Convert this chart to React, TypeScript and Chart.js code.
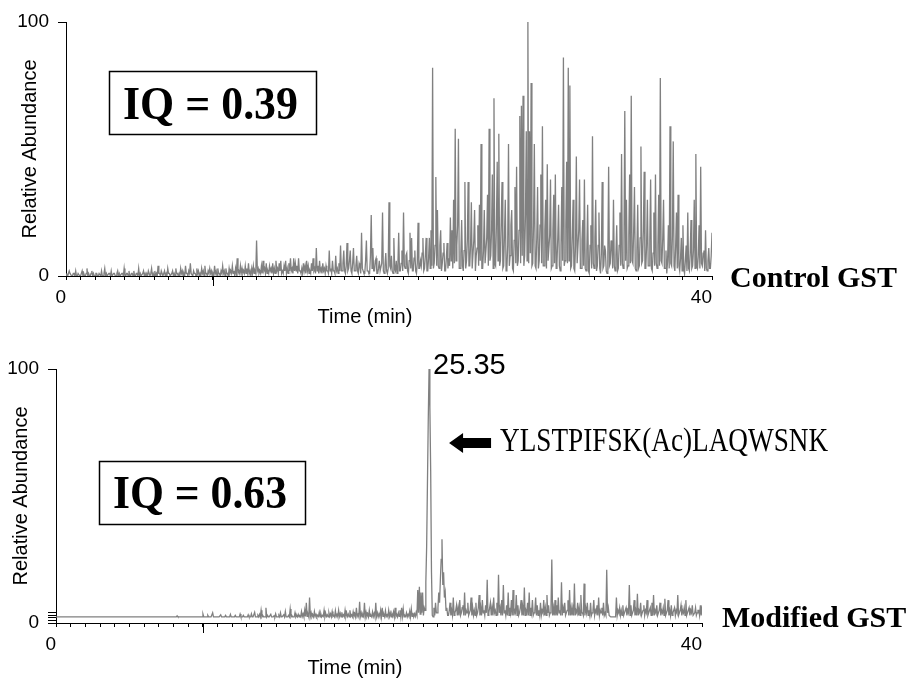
import React, { useEffect, useRef } from "react";
import { Chart, registerables } from "chart.js";

Chart.register(...registerables);

// ---------- data ----------
const SAMPLE_STEP = 0.055; // minutes between scans
const X_MIN = 0;
const X_MAX = 44;
const xLabelValues = [0, 44];
const xLabelTexts = ["0", "40"];
const MAJOR_TICK = 10;
const yLabelValues = [0, 100];
const yLabelTexts = ["0", "100"];
const yMinorTicksModified = [1, 2, 3, 4];

const controlValues = [
  1, 0, 0, 1, 2, 1, 1, 0, 0, 1, 1, 0, 2, 0, 0, 1, 1, 0, 0, 1,
  2, 0, 1, 0, 0, 1, 3, 0, 1, 0, 0, 1, 2, 0, 1, 0, 0, 1, 1, 0,
  0, 1, 1, 0, 2, 0, 0, 1, 3, 0, 1, 0, 0, 1, 1, 0, 2, 0, 0, 1,
  1, 0, 0, 1, 2, 0, 1, 0, 0, 1, 1, 0, 3, 0, 0, 1, 1, 0, 2, 0,
  0, 1, 1, 0, 2, 0, 0, 1, 1, 0, 3, 0, 1, 0, 0, 1, 2, 0, 1, 0,
  1, 0, 2, 1, 0, 1, 3, 0, 1, 0, 2, 0, 1, 0, 4, 1, 1, 0, 2, 1,
  0, 1, 2, 0, 1, 0, 3, 1, 1, 0, 0, 1, 2, 0, 1, 0, 3, 1, 1, 0,
  1, 0, 3, 1, 2, 0, 1, 0, 4, 1, 1, 0, 2, 1, 5, 1, 1, 0, 2, 1,
  1, 0, 3, 1, 2, 0, 1, 0, 3, 1, 2, 0, 4, 1, 1, 0, 2, 1, 3, 1,
  2, 0, 1, 0, 4, 1, 2, 0, 3, 1, 1, 0, 2, 1, 4, 1, 2, 0, 3, 1,
  1, 0, 3, 1, 2, 1, 4, 1, 2, 0, 3, 1, 7, 1, 2, 1, 4, 1, 3, 1,
  2, 1, 4, 1, 3, 1, 5, 1, 2, 0, 3, 1, 4, 1, 2, 1, 14, 2, 3, 1,
  2, 1, 4, 1, 6, 2, 3, 1, 5, 1, 2, 1, 4, 2, 3, 1, 5, 1, 3, 1,
  6, 2, 3, 1, 5, 2, 6, 1, 2, 1, 4, 2, 6, 1, 3, 1, 5, 2, 7, 2,
  3, 1, 7, 2, 5, 2, 4, 1, 7, 2, 2, 1, 3, 1, 5, 2, 4, 1, 6, 2,
  4, 1, 2, 1, 5, 2, 7, 2, 3, 1, 11, 2, 4, 1, 6, 2, 3, 1, 5, 2,
  3, 1, 4, 2, 2, 1, 10, 2, 3, 1, 6, 2, 2, 1, 8, 2, 3, 1, 5, 2,
  12, 2, 2, 5, 10, 2, 1, 4, 13, 2, 3, 6, 10, 2, 1, 5, 11, 2, 2, 4,
  8, 2, 1, 5, 4, 1, 17, 3, 2, 1, 1, 6, 14, 2, 2, 1, 1, 8, 24, 3,
  11, 2, 2, 6, 7, 1, 1, 3, 6, 2, 2, 5, 25, 2, 1, 4, 9, 2, 1, 3,
  29, 4, 3, 8, 2, 1, 15, 3, 2, 6, 1, 4, 17, 2, 2, 5, 10, 2, 25, 4,
  3, 8, 9, 2, 1, 6, 17, 3, 15, 2, 2, 7, 10, 2, 1, 5, 21, 3, 3, 6,
  4, 9, 15, 2, 3, 8, 15, 2, 2, 7, 15, 3, 18, 4, 82, 3, 5, 12, 39, 4,
  26, 4, 3, 12, 18, 2, 5, 9, 13, 2, 2, 7, 13, 3, 7, 4, 23, 6, 18, 3,
  30, 5, 58, 6, 12, 20, 54, 3, 3, 9, 22, 4, 2, 10, 37, 3, 6, 14, 37, 4,
  4, 12, 29, 3, 3, 14, 26, 2, 8, 11, 20, 4, 28, 6, 52, 3, 3, 10, 26, 5,
  5, 15, 32, 4, 58, 6, 8, 18, 40, 3, 70, 5, 4, 20, 45, 6, 56, 4, 6, 22,
  37, 3, 4, 16, 30, 2, 3, 12, 52, 4, 8, 20, 26, 3, 2, 14, 35, 5, 43, 4,
  6, 18, 63, 5, 67, 8, 71, 4, 8, 24, 57, 6, 100, 5, 57, 9, 76, 4, 5, 20,
  52, 4, 3, 15, 35, 3, 6, 20, 40, 5, 59, 4, 4, 18, 30, 3, 44, 6, 6, 16,
  38, 3, 4, 18, 32, 5, 40, 3, 5, 15, 28, 4, 2, 12, 35, 6, 86, 4, 6, 20,
  45, 5, 82, 6, 75, 3, 4, 16, 30, 3, 2, 12, 47, 5, 5, 18, 38, 3, 3, 14,
  22, 4, 38, 3, 2, 10, 28, 2, 1, 12, 20, 3, 55, 5, 3, 15, 30, 2, 4, 12,
  25, 3, 1, 9, 37, 3, 4, 12, 10, 2, 1, 8, 43, 4, 5, 14, 12, 3, 30, 4,
  2, 8, 20, 2, 3, 12, 25, 4, 48, 5, 3, 14, 65, 6, 30, 3, 4, 16, 40, 5,
  71, 6, 5, 18, 35, 3, 2, 10, 28, 3, 4, 15, 51, 5, 6, 18, 41, 3, 3, 12,
  30, 4, 4, 14, 38, 3, 2, 9, 25, 4, 40, 5, 3, 12, 32, 4, 78, 6, 5, 15,
  30, 3, 3, 10, 1, 6, 20, 3, 59, 5, 4, 16, 53, 4, 2, 12, 25, 3, 32, 4,
  2, 7, 15, 2, 20, 3, 1, 6, 12, 2, 25, 3, 2, 9, 22, 3, 4, 10, 30, 3,
  48, 4, 3, 8, 20, 3, 43, 5, 4, 9, 10, 2, 18, 3, 2, 6, 11, 3, 3, 8,
  17,
];

const modifiedValues = [
  2.4, 2.4, 2.4, 2.4, 2.4, 2.4, 2.4, 2.4, 2.4, 2.4, 2.4, 2.4, 2.4, 2.4, 2.4, 2.4, 2.4, 2.4, 2.4, 2.4,
  2.4, 2.4, 2.4, 2.4, 2.4, 2.4, 2.4, 2.4, 2.4, 2.4, 2.4, 2.4, 2.4, 2.4, 2.4, 2.4, 2.4, 2.4, 2.4, 2.4,
  2.4, 2.4, 2.4, 2.4, 2.4, 2.4, 2.4, 2.4, 2.4, 2.4, 2.4, 2.4, 2.4, 2.4, 2.4, 2.4, 2.4, 2.4, 2.4, 2.4,
  2.4, 2.4, 2.4, 2.4, 2.4, 2.4, 2.4, 2.4, 2.4, 2.4, 2.4, 2.4, 2.4, 2.4, 2.4, 2.4, 2.4, 2.4, 2.4, 2.4,
  2.4, 2.4, 2.4, 2.4, 2.4, 2.4, 2.4, 2.4, 2.4, 2.4, 2.4, 2.4, 2.4, 2.4, 2.4, 2.4, 2.4, 2.4, 2.4, 2.4,
  2.4, 2.4, 2.4, 2.4, 2.4, 2.4, 2.4, 2.4, 2.4, 2.4, 2.4, 2.4, 2.4, 2.4, 2.4, 2.4, 2.4, 2.4, 2.4, 2.4,
  2.4, 2.4, 2.4, 2.4, 2.4, 2.4, 2.4, 2.4, 2.4, 2.4, 2.4, 2.4, 2.4, 2.4, 2.4, 2.4, 2.4, 2.4, 2.4, 2.4,
  2.4, 2.4, 2.4, 2.4, 2.4, 2.4, 2.4, 2.4, 2.4, 2.4, 2.8, 2.4, 2.4, 2.4, 2.4, 2.4, 2.4, 2.4, 2.4, 2.4,
  2.4, 2.4, 2.4, 2.4, 2.4, 2.4, 2.4, 2.4, 2.4, 2.4, 2.4, 2.4, 2.4, 2.4, 2.4, 2.4, 2.4, 2.4, 2.4, 2.4,
  2.4, 2.4, 3.5, 2.4, 2.4, 2.4, 2.4, 2.4, 3.0, 2.4, 2.4, 2.4, 2.4, 2.4, 4.0, 2.4, 2.4, 2.4, 2.4, 2.4,
  2.4, 2.4, 2.4, 2.4, 3.2, 2.4, 2.4, 2.4, 2.4, 2.4, 3.0, 2.4, 2.4, 2.4, 2.4, 2.4, 3.4, 2.4, 2.4, 2.4,
  2.4, 2.4, 3.0, 2.4, 2.4, 2.4, 2.4, 2.4, 3.5, 2.4, 2.4, 2.4, 3.0, 2.4, 2.4, 2.4, 2.4, 2.4, 3.2, 2.4,
  2.4, 2.4, 3.6, 2.4, 2.4, 2.4, 4.2, 2.4, 2.4, 2.4, 3.0, 2.4, 3.4, 2.4, 5.0, 2.4, 3.0, 2.4, 2.4, 2.4,
  6.0, 2.4, 3.0, 2.4, 2.4, 2.4, 3.4, 2.4, 2.4, 2.4, 2.8, 2.4, 3.6, 2.4, 2.4, 2.4, 3.0, 2.4, 4.0, 2.4,
  2.4, 2.4, 3.2, 2.4, 4.5, 2.4, 2.4, 2.4, 3.0, 2.4, 5.5, 2.4, 3.0, 2.4, 2.4, 2.4, 4.0, 2.4, 3.0, 2.4,
  3.4, 2.4, 2.8, 2.4, 4.5, 2.6, 3.6, 2.4, 5.0, 2.6, 8.0, 2.6, 3.5, 2.4, 10.0, 2.6, 4.0, 2.4, 3.2, 2.4,
  4.5, 2.6, 3.4, 2.4, 3.0, 2.6, 4.2, 2.4, 3.6, 2.4, 3.0, 2.6, 5.0, 2.4, 3.8, 2.6, 3.2, 2.4, 4.0, 2.6,
  3.6, 2.4, 4.5, 2.6, 3.0, 2.4, 4.8, 2.6, 3.4, 2.4, 5.0, 2.6, 3.8, 2.4, 4.2, 2.6, 3.2, 2.4, 5.0, 2.6,
  4.0, 2.6, 3.5, 2.4, 5.0, 2.6, 3.2, 2.4, 4.4, 2.6, 3.6, 2.4, 6.0, 2.6, 3.4, 2.4, 8.4, 2.6, 4.0, 2.4,
  3.4, 2.6, 8.0, 2.4, 4.2, 2.6, 3.6, 2.4, 5.0, 2.6, 3.0, 2.4, 4.4, 2.6, 3.8, 2.4, 8.0, 2.6, 4.0, 2.4,
  3.6, 2.6, 5.0, 2.4, 6.0, 2.6, 3.4, 2.4, 4.8, 2.6, 3.2, 2.4, 5.0, 2.6, 4.0, 2.4, 3.6, 2.6, 4.4, 2.4,
  6.0, 2.6, 3.4, 2.4, 4.0, 2.6, 5.0, 2.4, 6.0, 2.6, 5.5, 2.4, 3.0, 2.6, 4.0, 2.4, 3.4, 2.6, 4.6, 2.4,
  5.5, 2.6, 4.0, 2.4, 3.6, 2.6, 4.2, 3.0, 13.0, 4.0, 14.3, 3.5, 12.0, 4.0, 12.0, 3.0, 6.0, 5.0, 16.0, 30,
  55, 80, 100, 85, 60, 20, 3, 2.4, 6, 3, 8, 4, 4, 6, 12, 8, 17, 25, 33, 15,
  20, 10, 12, 5, 6, 3, 3, 5, 8, 3, 5, 3, 10, 3, 4, 5, 7, 3, 6, 3,
  9, 3, 4, 6, 7, 3, 12, 3, 5, 4, 8, 3, 4, 5, 10, 3, 6, 3, 5, 3,
  8, 3, 4, 6, 11, 3, 6, 3, 9, 4, 5, 3, 7, 4, 17, 3, 4, 6, 8, 3,
  6, 3, 10, 4, 5, 3, 8, 3, 19, 4, 6, 3, 9, 3, 15, 4, 5, 3, 7, 3,
  12, 3, 6, 4, 9, 3, 13, 3, 5, 4, 11, 3, 7, 3, 4, 6, 9, 3, 6, 3,
  14, 3, 5, 4, 8, 3, 12, 3, 6, 4, 9, 3, 4, 5, 10, 3, 7, 3, 5, 3,
  8, 3, 5, 4, 9, 3, 6, 3, 11, 4, 7, 3, 4, 6, 25, 3, 6, 3, 9, 3,
  7, 3, 10, 4, 5, 3, 16, 3, 6, 4, 8, 3, 4, 5, 9, 3, 13, 3, 6, 3,
  6, 3, 15.5, 3, 5, 4, 8, 3, 6, 3, 11, 4, 4, 3, 15.5, 3, 6, 4, 8, 3,
  5, 3, 8, 3, 4, 5, 9, 3, 5, 4, 7, 3, 10, 3, 5, 4, 6, 3, 8, 3,
  4, 3, 21, 4, 6, 3, 3, 2.4, 2.4, 2.4, 2.4, 2.4, 2.4, 2.4, 10, 3, 5, 4, 6, 3,
  5, 3, 7, 3, 4, 5, 6, 3, 5, 4, 15, 3, 7, 3, 4, 5, 9, 3, 5, 3,
  11.5, 3, 5, 4, 8, 3, 4, 5, 7, 3, 5, 4, 9, 3, 4, 5, 6, 3, 8, 3,
  11, 3, 5, 4, 7, 3, 4, 5, 8, 3, 5, 4, 6, 3, 9.5, 3, 4, 5, 9, 3,
  5, 3, 7, 3, 4, 5, 6, 3, 5, 4, 11, 3, 4, 5, 7, 3, 5, 4, 6, 3,
  9, 3, 4, 5, 6, 3, 5, 4, 7, 3, 3, 4, 6, 3, 4, 5, 5, 3, 7, 3,
  7,
];

const PEAK_LABEL = "25.35";
const PEPTIDE = "YLSTPIFSK(Ac)LAQWSNK";

// ---------- helpers ----------
const SANS = '"Liberation Sans", Arial, sans-serif';
const SERIF = '"Liberation Serif", "Times New Roman", serif';

type Annot = {
  iqText: string;
  box: [number, number, number, number];
  iqX: number;
  iqY: number;
  iqMax: number;
  sampleText: string;
  sampleX: number;
  sampleY: number;
  titleX: number;
  titleY: number;
  peak?: boolean;
};

function makeOptions(cfg: {
  padLeft: number;
  padTop: number;
  padRight: number;
  yWidth: number;
  xHeight: number;
  yMinor: number[];
  annot: Annot;
  values: number[];
}) {
  const minorTicks: number[] = [];
  for (let v = X_MIN; v <= X_MAX; v += 1) minorTicks.push(v);
  const yTicks = [...yLabelValues, ...cfg.yMinor].sort((a, b) => a - b);

  const annotPlugin = {
    id: "annot",
    afterDraw(chart: any) {
      const ctx = chart.ctx;
      const xs = chart.scales.x;
      const ys = chart.scales.y;
      const a = cfg.annot;
      ctx.save();
      // major tick
      ctx.strokeStyle = "#000";
      ctx.lineWidth = 1;
      const mx = Math.round(xs.getPixelForValue(MAJOR_TICK)) + 0.5;
      ctx.beginPath();
      ctx.moveTo(mx, chart.chartArea.bottom);
      ctx.lineTo(mx, chart.chartArea.bottom + 10);
      ctx.stroke();
      // IQ box
      ctx.lineWidth = 1.5;
      ctx.strokeRect(a.box[0], a.box[1], a.box[2], a.box[3]);
      ctx.fillStyle = "#000";
      ctx.textBaseline = "alphabetic";
      ctx.textAlign = "left";
      ctx.font = `bold 46px ${SERIF}`;
      ctx.fillText(a.iqText, a.iqX, a.iqY, a.iqMax);
      // sample label
      ctx.font = `bold 30px ${SERIF}`;
      ctx.fillText(a.sampleText, a.sampleX, a.sampleY);
      // x title
      ctx.font = `20px ${SANS}`;
      ctx.textAlign = "center";
      ctx.fillText("Time (min)", a.titleX, a.titleY);
      if (a.peak) {
        let pi = 0;
        cfg.values.forEach((v, i) => {
          if (v > cfg.values[pi]) pi = i;
        });
        const px = xs.getPixelForValue(pi * SAMPLE_STEP);
        const py = ys.getPixelForValue(cfg.values[pi]);
        ctx.textAlign = "left";
        ctx.font = `29px ${SANS}`;
        ctx.fillText(PEAK_LABEL, px + 4, py + 5);
        // arrow
        const ay = 103;
        const tip = px + 20;
        ctx.beginPath();
        ctx.moveTo(tip, ay);
        ctx.lineTo(tip + 14, ay - 10);
        ctx.lineTo(tip + 14, ay - 5);
        ctx.lineTo(tip + 42, ay - 5);
        ctx.lineTo(tip + 42, ay + 5);
        ctx.lineTo(tip + 14, ay + 5);
        ctx.lineTo(tip + 14, ay + 10);
        ctx.closePath();
        ctx.fill();
        ctx.font = `33px ${SERIF}`;
        ctx.fillText(PEPTIDE, tip + 51, 111, 328);
      }
      ctx.restore();
    },
  };

  const options: any = {
    animation: false,
    responsive: false,
    events: [],
    layout: { padding: { left: cfg.padLeft, top: cfg.padTop, right: cfg.padRight, bottom: 0 } },
    plugins: { legend: { display: false }, tooltip: { enabled: false } },
    scales: {
      x: {
        type: "linear",
        min: X_MIN,
        max: X_MAX,
        afterBuildTicks: (s: any) => {
          s.ticks = minorTicks.map((v) => ({ value: v }));
        },
        afterFit: (s: any) => {
          s.height = cfg.xHeight;
        },
        grid: { drawOnChartArea: false, drawTicks: true, tickLength: 4, color: "#000", lineWidth: 1 },
        border: { display: true, color: "#000", width: 1 },
        ticks: {
          autoSkip: false,
          maxRotation: 0,
          minRotation: 0,
          align: "end",
          padding: 6,
          color: "#000",
          font: { size: 19, family: SANS },
          callback: (v: number) => {
            const k = xLabelValues.indexOf(v);
            return k >= 0 ? xLabelTexts[k] : "";
          },
        },
      },
      y: {
        type: "linear",
        min: 0,
        max: 100,
        afterBuildTicks: (s: any) => {
          s.ticks = yTicks.map((v) => ({ value: v }));
        },
        afterFit: (s: any) => {
          s.width = cfg.yWidth;
        },
        grid: { drawOnChartArea: false, drawTicks: true, tickLength: 8, color: "#000", lineWidth: 1 },
        border: { display: true, color: "#000", width: 1 },
        ticks: {
          autoSkip: false,
          padding: 9,
          color: "#000",
          font: { size: 19, family: SANS },
          callback: (v: number) => {
            const k = yLabelValues.indexOf(v);
            return k >= 0 ? yLabelTexts[k] : "";
          },
        },
        title: {
          display: true,
          text: "Relative Abundance",
          color: "#000",
          font: { size: 20, family: SANS },
          padding: { top: 4, bottom: 0 },
        },
      },
    },
  };
  return { options, plugin: annotPlugin };
}

function buildChart(canvas: HTMLCanvasElement, values: number[], cfg: any) {
  const { options, plugin } = makeOptions({ ...cfg, values });
  return new Chart(canvas, {
    type: "line",
    data: {
      datasets: [
        {
          data: values.map((v, i) => ({ x: i * SAMPLE_STEP, y: v })),
          borderColor: "#808080",
          borderWidth: 1.3,
          pointRadius: 0,
          tension: 0,
          fill: false,
        },
      ],
    },
    options,
    plugins: [plugin],
  });
}

export default function App() {
  const topRef = useRef<HTMLCanvasElement>(null);
  const botRef = useRef<HTMLCanvasElement>(null);

  useEffect(() => {
    const c1 = buildChart(topRef.current!, controlValues, {
      padLeft: 14,
      padTop: 22,
      padRight: 201,
      yWidth: 52,
      xHeight: 64,
      yMinor: [],
      annot: {
        iqText: "IQ = 0.39",
        box: [109.5, 71.5, 207, 63],
        iqX: 123,
        iqY: 119,
        iqMax: 175,
        sampleText: "Control GST",
        sampleX: 730,
        sampleY: 287,
        titleX: 365,
        titleY: 323,
      },
    });
    const c2 = buildChart(botRef.current!, modifiedValues, {
      padLeft: 5,
      padTop: 29,
      padRight: 211,
      yWidth: 51,
      xHeight: 61,
      yMinor: yMinorTicksModified,
      annot: {
        iqText: "IQ = 0.63",
        box: [99.5, 121.5, 206, 63],
        iqX: 113,
        iqY: 168,
        iqMax: 174,
        sampleText: "Modified GST",
        sampleX: 722,
        sampleY: 287,
        titleX: 355,
        titleY: 334,
        peak: true,
      },
    });
    return () => {
      c1.destroy();
      c2.destroy();
    };
  }, []);

  return (
    <div style={{ position: "absolute", left: 0, top: 0, width: 913, height: 684, background: "#fff" }}>
      <canvas ref={topRef} width={913} height={340} style={{ position: "absolute", left: 0, top: 0 }} />
      <canvas ref={botRef} width={913} height={344} style={{ position: "absolute", left: 0, top: 340 }} />
    </div>
  );
}
